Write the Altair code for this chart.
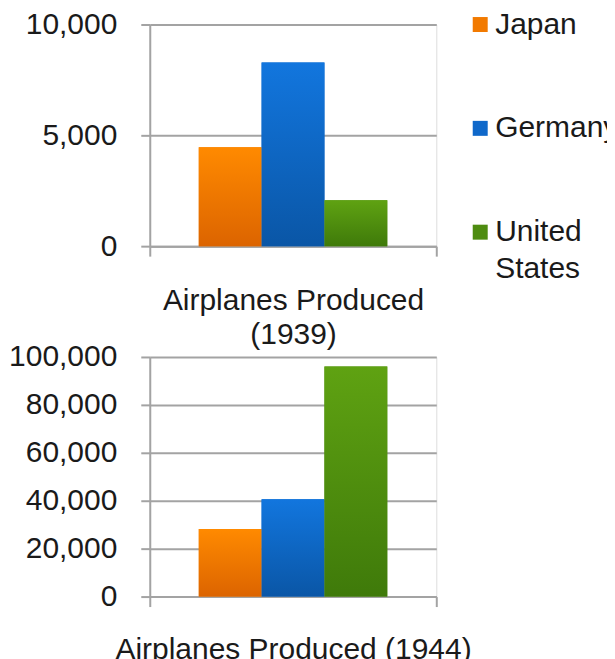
import altair as alt
import pandas as pd

countries = ["Japan", "Germany", "United States"]
produced_1939 = [4460, 8290, 2070]
produced_1944 = [28200, 40600, 96000]
legend_colors = ["#F27A00", "#0F68CA", "#4E8C10"]
bar_top_colors = ["#FF8A00", "#1276DE", "#5FA212"]
bar_bottom_colors = ["#DC6400", "#0A56A6", "#3F7A0A"]
ticks_1939 = [0, 5000, 10000]
ticks_1944 = [0, 20000, 40000, 60000, 80000, 100000]
title_1939 = ["Airplanes Produced", "(1939)"]
title_1944 = "Airplanes Produced (1944)"

df1 = pd.DataFrame({"country": countries, "value": produced_1939, "group": "1939"})
df2 = pd.DataFrame({"country": countries, "value": produced_1944, "group": "1944"})

FONT = "Liberation Sans"
FS = 30
GRID = "#a3a3a3"
TEXT = "#1a1a1a"

legend = alt.Legend(
    title=None, orient="none", legendX=316, legendY=-15, padding=0,
    symbolType="square", symbolSize=225, symbolStrokeWidth=0,
    labelFont=FONT, labelFontSize=FS, labelColor=TEXT, labelOffset=0,
    rowPadding=74, labelLimit=300,
    labelExpr="datum.label == 'United States' ? ['United', 'States'] : datum.label",
)


def gradient(top, bottom):
    return alt.Gradient(
        gradient="linear",
        stops=[alt.GradientStop(offset=0, color=top), alt.GradientStop(offset=1, color=bottom)],
        x1=0, x2=0, y1=0, y2=1,
    )


def panel(df, ticks, title, height, title_padding):
    x = alt.X(
        "group:N",
        scale=alt.Scale(paddingInner=0, paddingOuter=0),
        axis=alt.Axis(
            labels=False, ticks=True, tickBand="extent", tickSize=10,
            tickColor=GRID, tickWidth=2, domainColor=GRID, domainWidth=2,
            title=title, titleFont=FONT, titleFontSize=FS, titleFontWeight="normal",
            titleColor=TEXT, titlePadding=title_padding, titleLineHeight=35,
        ),
    )
    xo = alt.XOffset("country:N", sort=countries,
                     scale=alt.Scale(domain=countries, paddingOuter=0.78, paddingInner=0))
    y = alt.Y(
        "value:Q",
        scale=alt.Scale(domain=[ticks[0], ticks[-1]], nice=False),
        axis=alt.Axis(
            values=ticks, format=",.0f", title=None, grid=True, gridColor=GRID, gridWidth=2,
            domainColor=GRID, domainWidth=2, tickColor=GRID, tickWidth=2, tickSize=9,
            labelFont=FONT, labelFontSize=FS, labelColor=TEXT, labelPadding=24,
        ),
    )
    base = alt.Chart(df).encode(x=x, xOffset=xo, y=y)
    layers = [
        base.mark_bar().encode(
            color=alt.Color("country:N", sort=countries,
                            scale=alt.Scale(domain=countries, range=legend_colors),
                            legend=legend)
        )
    ]
    for c, top, bottom in zip(countries, bar_top_colors, bar_bottom_colors):
        layers.append(
            base.transform_filter(alt.datum.country == c).mark_bar(color=gradient(top, bottom))
        )
    return alt.layer(*layers).properties(width=287, height=height)


c1 = panel(df1, ticks_1939, title_1939, 222, 28)
c2 = panel(df2, ticks_1944, title_1944, 240, 27)

chart = (
    alt.vconcat(c1, c2, spacing=-10)
    .properties(padding={"left": 0, "top": 0, "right": -12, "bottom": 0}, background="white")
    .configure_view(stroke=None)
    .configure(style={"guide-label": {"lineHeight": 37}})
)

chart.save("out.html", embed_options={"renderer": "svg", "actions": False})
